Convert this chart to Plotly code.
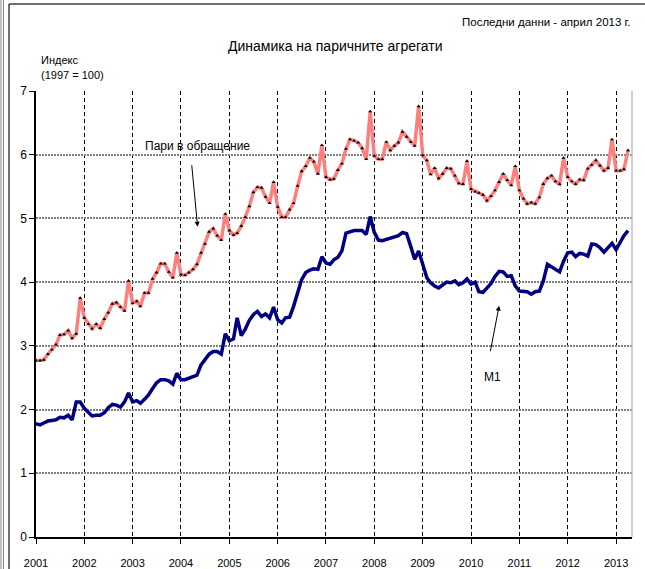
import pandas as pd
import plotly.graph_objects as go

# ---------------- data ----------------
start_month = "2001-01-01"
tick_years = ["2001", "2002", "2003", "2004", "2005", "2006", "2007",
              "2008", "2009", "2010", "2011", "2012", "2013"]
y_ticks = [0, 1, 2, 3, 4, 5, 6, 7]

currency_in_circulation = [
    2.77, 2.77, 2.78, 2.87, 2.94, 3.02, 3.17, 3.18, 3.24, 3.12, 3.19, 3.75,
    3.44, 3.34, 3.27, 3.34, 3.28, 3.42, 3.52, 3.66, 3.68, 3.61, 3.55, 4.02,
    3.67, 3.70, 3.62, 3.83, 3.83, 4.05, 4.15, 4.29, 4.29, 4.16, 4.07, 4.46,
    4.12, 4.11, 4.15, 4.20, 4.28, 4.46, 4.60, 4.79, 4.84, 4.73, 4.66, 5.07,
    4.81, 4.74, 4.77, 4.88, 5.02, 5.19, 5.41, 5.49, 5.48, 5.34, 5.24, 5.57,
    5.18, 5.02, 5.02, 5.14, 5.24, 5.51, 5.74, 5.82, 5.95, 5.89, 5.70, 6.15,
    5.65, 5.61, 5.62, 5.76, 5.86, 6.09, 6.24, 6.22, 6.19, 6.10, 5.93, 6.68,
    5.98, 5.93, 5.93, 6.20, 6.07, 6.14, 6.19, 6.36, 6.28, 6.20, 6.14, 6.76,
    5.99, 5.91, 5.69, 5.79, 5.63, 5.70, 5.79, 5.78, 5.67, 5.55, 5.54, 5.90,
    5.46, 5.42, 5.40, 5.37, 5.28, 5.35, 5.44, 5.57, 5.70, 5.60, 5.52, 5.82,
    5.44, 5.31, 5.23, 5.25, 5.23, 5.33, 5.54, 5.63, 5.67, 5.58, 5.54, 5.95,
    5.65, 5.58, 5.54, 5.61, 5.60, 5.78, 5.84, 5.91, 5.83, 5.75, 5.79, 6.24,
    5.75, 5.75, 5.77, 6.07,
]

m1 = [
    1.78, 1.76, 1.79, 1.82, 1.83, 1.84, 1.88, 1.87, 1.91, 1.84, 2.12, 2.12,
    2.02, 1.95, 1.90, 1.91, 1.91, 1.95, 2.03, 2.08, 2.07, 2.04, 2.12, 2.26,
    2.12, 2.14, 2.10, 2.16, 2.23, 2.33, 2.42, 2.47, 2.47, 2.45, 2.40, 2.57,
    2.47, 2.47, 2.49, 2.51, 2.54, 2.70, 2.78, 2.87, 2.91, 2.91, 2.87, 3.19,
    3.08, 3.11, 3.44, 3.16, 3.26, 3.40, 3.49, 3.54, 3.46, 3.50, 3.44, 3.61,
    3.41, 3.36, 3.44, 3.45, 3.62, 3.83, 4.04, 4.15, 4.19, 4.21, 4.20, 4.40,
    4.30, 4.28, 4.35, 4.39, 4.49, 4.77, 4.79, 4.81, 4.81, 4.81, 4.75, 5.03,
    4.78, 4.66, 4.65, 4.67, 4.69, 4.71, 4.73, 4.78, 4.76, 4.57, 4.36, 4.49,
    4.28, 4.07, 3.99, 3.94, 3.91, 3.96, 4.00, 3.99, 4.02, 3.96, 3.99, 4.05,
    3.97, 4.00, 3.85, 3.84, 3.90, 3.98, 4.09, 4.17, 4.16, 4.09, 4.10, 3.94,
    3.86, 3.85, 3.85, 3.81, 3.85, 3.86, 4.02, 4.28, 4.24, 4.20, 4.16, 4.33,
    4.46, 4.47, 4.40, 4.45, 4.44, 4.41, 4.60, 4.59, 4.54, 4.47, 4.54, 4.61,
    4.51, 4.63, 4.73, 4.81,
]

months = pd.date_range(start_month, periods=len(m1), freq="MS")

# ---------------- layout geometry (pixels) ----------------
W, H = 645, 569
L, R, T, B = 36, 13, 91, 32
PW, PH = W - L - R, H - T - B


def px(xp):
    return (xp - L) / PW


def py(yp):
    return (H - B - yp) / PH


FONT = "Liberation Sans, Arial, sans-serif"

fig = go.Figure()

fig.add_trace(go.Scatter(
    x=months, y=m1, mode="lines", name="M1",
    line=dict(color="#000080", width=3.5),
))
fig.add_trace(go.Scatter(
    x=months, y=currency_in_circulation, mode="lines+markers",
    name="Пари в обращение",
    line=dict(color="#FF7F7F", width=3.5),
    marker=dict(symbol="triangle-up", size=3.5, color="black"),
))

fig.update_layout(
    width=W, height=H,
    margin=dict(l=L, r=R, t=T, b=B, pad=0, autoexpand=False),
    paper_bgcolor="white", plot_bgcolor="white",
    showlegend=False,
    font=dict(family=FONT, size=11, color="black"),
)

fig.update_xaxes(
    type="date",
    range=["2001-01-01", "2013-05-01"],
    tickvals=[pd.Timestamp(y + "-01-01") for y in tick_years],
    ticktext=tick_years,
    showgrid=True, gridcolor="black", gridwidth=1, griddash="4px,3px",
    showline=True, linecolor="black", linewidth=1.5,
    ticks="outside", ticklen=5, tickcolor="black",
    ticklabelstandoff=10,
    tickfont=dict(family=FONT, size=11),
    zeroline=False, automargin=False,
)
fig.update_yaxes(
    range=[0, 7],
    tickvals=y_ticks,
    showgrid=True, gridcolor="#808080", gridwidth=2, griddash="2px,1px",
    showline=True, linecolor="black", linewidth=1.5,
    ticks="outside", ticklen=5, tickcolor="black",
    tickfont=dict(family=FONT, size=12),
    zeroline=False, automargin=False,
)

# right edge of plot area
fig.add_shape(type="line", xref="paper", yref="paper", x0=1, x1=1, y0=0, y1=1,
              line=dict(color="#c0c0c0", width=1.5))
# outer frame
fig.add_shape(type="line", xref="paper", yref="paper",
              x0=px(9), x1=px(645), y0=py(4), y1=py(4),
              line=dict(color="#404040", width=1.5))
fig.add_shape(type="line", xref="paper", yref="paper",
              x0=px(9), x1=px(9), y0=py(4), y1=py(569),
              line=dict(color="#404040", width=1.5))
for xl in (1, 3.5):
    fig.add_shape(type="line", xref="paper", yref="paper",
                  x0=px(xl), x1=px(xl), y0=py(0), y1=py(569),
                  line=dict(color="#808080", width=1))

# texts
fig.add_annotation(text="Последни данни - април 2013 г.", xref="paper", yref="paper",
                   x=px(633), y=py(22), xanchor="right", yanchor="middle",
                   showarrow=False, font=dict(family=FONT, size=11.5))
fig.add_annotation(text="Динамика на паричните агрегати", xref="paper", yref="paper",
                   x=px(335), y=py(46), xanchor="center", yanchor="middle",
                   showarrow=False, font=dict(family=FONT, size=14))
fig.add_annotation(text="Индекс", xref="paper", yref="paper",
                   x=px(39), y=py(60), xanchor="left", yanchor="middle",
                   showarrow=False, font=dict(family=FONT, size=11))
fig.add_annotation(text="(1997 = 100)", xref="paper", yref="paper",
                   x=px(39), y=py(75), xanchor="left", yanchor="middle",
                   showarrow=False, font=dict(family=FONT, size=11))

fig.add_annotation(text="Пари в обращение", xref="paper", yref="paper",
                   x=px(197), y=py(146), xanchor="center", yanchor="middle",
                   showarrow=False, font=dict(family=FONT, size=12))
fig.add_annotation(text="", x=pd.Timestamp("2004-05-06"), y=4.87,
                   ax=-6, ay=-63, showarrow=True, arrowhead=2, arrowsize=1,
                   arrowwidth=1, arrowcolor="black")

fig.add_annotation(text="М1", xref="paper", yref="paper",
                   x=px(492), y=py(377), xanchor="center", yanchor="middle",
                   showarrow=False, font=dict(family=FONT, size=12))
fig.add_annotation(text="", x=pd.Timestamp("2010-08-01"), y=3.63,
                   ax=-9, ay=47, showarrow=True, arrowhead=2, arrowsize=1,
                   arrowwidth=1, arrowcolor="black")

fig.write_html("out.html", config={"displayModeBar": False},
               post_script="document.body.style.margin='0px';")
